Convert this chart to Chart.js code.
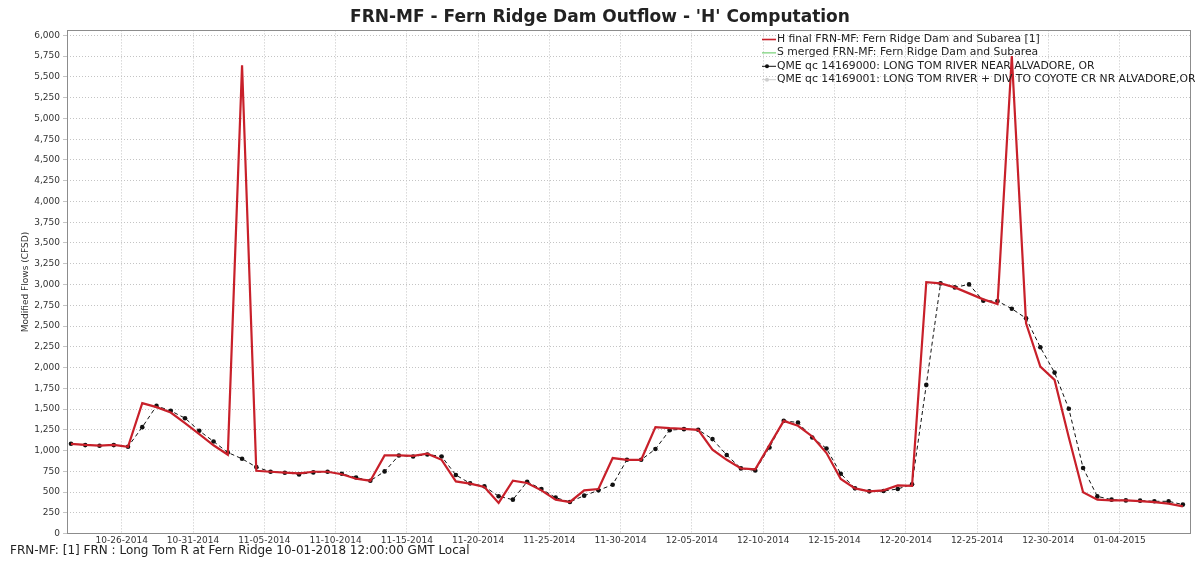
<!DOCTYPE html>
<html>
<head>
<meta charset="utf-8">
<script src="https://cdn.jsdelivr.net/npm/chart.js@4/dist/chart.umd.min.js"></script>
<style>
  html, body { margin: 0; padding: 0; background: #fff; }
</style>
</head>
<body>
<canvas id="flowChart" width="1195" height="563"></canvas>
<script>
// daily values, first point = 10-22-2014, last = 01-08-2015
var hFinal = [1080, 1068, 1060, 1068, 1045, 1571, 1523, 1458, 1330, 1198,
              1064, 950, 5640, 757, 745, 735, 725, 745, 745, 715,
              660, 637, 941, 941, 937, 963, 889, 629, 601, 561,
              369, 637, 609, 521, 409, 381, 521, 537, 910, 889,
              889, 1282, 1270, 1262, 1250, 1010, 889, 785, 773, 1066,
              1358, 1298, 1170, 970, 657, 545, 509, 521, 580, 575,
              3029, 3013, 2965, 2893, 2821, 2764, 5750, 2533, 2011, 1851,
              1158, 497, 409, 400, 400, 390, 380, 360, 328];

var qme14169000 = [1082, 1066, 1058, 1066, 1046, 1282, 1538, 1478, 1390, 1238,
                   1110, 977, 901, 801, 745, 733, 713, 737, 745, 720,
                   675, 637, 749, 941, 929, 953, 929, 705, 605, 569,
                   449, 409, 625, 537, 433, 381, 457, 521, 589, 889,
                   889, 1018, 1246, 1258, 1250, 1138, 946, 785, 761, 1037,
                   1358, 1338, 1158, 1025, 721, 545, 509, 513, 537, 595,
                   1791, 3013, 2965, 3001, 2804, 2800, 2708, 2593, 2244, 1939,
                   1503, 790, 448, 409, 400, 397, 389, 389, 349];

// tick dates (day number counted from 10-22-2014)
var tickDays = [4, 9, 14, 19, 24, 29, 34, 39, 44, 49, 54, 59, 64, 69, 74];
var tickLabels = ['10-26-2014', '10-31-2014', '11-05-2014', '11-10-2014', '11-15-2014',
                  '11-20-2014', '11-25-2014', '11-30-2014', '12-05-2014', '12-10-2014',
                  '12-15-2014', '12-20-2014', '12-25-2014', '12-30-2014', '01-04-2015'];

var seriesNames = ['H final FRN-MF: Fern Ridge Dam and Subarea [1]',
                   'S merged FRN-MF: Fern Ridge Dam and Subarea',
                   'QME qc 14169000: LONG TOM RIVER NEAR ALVADORE, OR',
                   'QME qc 14169001: LONG TOM RIVER + DIV TO COYOTE CR NR ALVADORE,OR'];

var TICK_SHIFT = -0.44;   // values are logged late morning, ticks sit at midnight
var FLOW_STEP = 250;
var FLOW_TOP = 6000;

function toPoints(arr) {
    return arr.map(function (v, i) { return { x: i, y: v }; });
}

// plot frame
var framePlugin = {
    id: 'frame',
    afterDatasetsDraw: function (chart) {
        var a = chart.chartArea, c = chart.ctx;
        c.save();
        c.strokeStyle = '#8c8c8c';
        c.lineWidth = 1;
        c.strokeRect(Math.round(a.left) + 0.5, Math.round(a.top) + 0.5,
                     Math.round(a.right - a.left), Math.round(a.bottom - a.top));
        c.restore();
    }
};

// legend sits inside the plot, top right
var insideLegend = {
    id: 'insideLegend',
    afterDraw: function (chart) {
        var c = chart.ctx;
        c.save();
        c.font = '10.8px "DejaVu Sans"';
        c.textBaseline = 'middle';
        chart.data.datasets.forEach(function (ds, i) {
            var y = 39 + i * 13.4;
            c.strokeStyle = ds.borderColor;
            c.lineWidth = ds.borderWidth > 1.5 ? 1.6 : 1;
            c.setLineDash([]);
            c.beginPath();
            c.moveTo(762, y + 0.5);
            c.lineTo(776, y + 0.5);
            c.stroke();
            if (ds.legendDot) {
                c.fillStyle = ds.borderColor;
                c.beginPath();
                c.arc(767, y + 0.5, 2, 0, Math.PI * 2);
                c.fill();
            }
            c.fillStyle = '#222';
            c.fillText(ds.label, 777, y);
        });
        c.restore();
    }
};

var ctx = document.getElementById('flowChart').getContext('2d');
new Chart(ctx, {
    type: 'line',
    data: {
        datasets: [
            {
                label: seriesNames[0],
                data: toPoints(hFinal),
                borderColor: '#c8202a',
                borderWidth: 2.2,
                pointRadius: 0,
                tension: 0
            },
            {
                label: seriesNames[1],
                data: [],
                borderColor: '#5ac85a',
                borderWidth: 1,
                pointRadius: 0
            },
            {
                label: seriesNames[2],
                data: toPoints(qme14169000),
                borderColor: '#111111',
                borderWidth: 1,
                borderDash: [4, 3],
                pointRadius: 2.3,
                pointBorderWidth: 0,
                pointBackgroundColor: '#111111',
                legendDot: true
            },
            {
                label: seriesNames[3],
                data: [],
                borderColor: '#cfcfcf',
                borderWidth: 1,
                pointRadius: 0,
                legendDot: true
            }
        ]
    },
    options: {
        responsive: false,
        animation: false,
        events: [],
        layout: { padding: { left: 10, right: 5, top: 0, bottom: 0 } },
        plugins: {
            legend: { display: false },
            tooltip: { enabled: false },
            title: {
                display: true,
                text: "FRN-MF - Fern Ridge Dam Outflow - 'H' Computation",
                color: '#222',
                font: { family: 'DejaVu Sans', size: 17, weight: 'bold' },
                padding: { top: 7, bottom: 3 }
            },
            subtitle: {
                display: true,
                position: 'bottom',
                align: 'start',
                text: 'FRN-MF: [1] FRN : Long Tom R at Fern Ridge 10-01-2018 12:00:00 GMT Local',
                color: '#222',
                font: { family: 'DejaVu Sans', size: 12 },
                padding: { top: 0, bottom: 5 }
            }
        },
        scales: {
            x: {
                type: 'linear',
                min: -0.28,
                max: 78.5,
                afterBuildTicks: function (axis) {
                    axis.ticks = tickDays.map(function (d) { return { value: d + TICK_SHIFT }; });
                },
                afterFit: function (axis) { axis.height = 10; },
                ticks: {
                    autoSkip: false,
                    maxRotation: 0,
                    padding: 2,
                    color: '#333',
                    font: { family: 'DejaVu Sans', size: 9 },
                    callback: function (v, i) { return tickLabels[i]; }
                },
                grid: { color: '#c4c4c4', drawTicks: false },
                border: { display: false, dash: [1, 2] }
            },
            y: {
                min: 0,
                max: 6060,
                afterBuildTicks: function (axis) {
                    var t = [];
                    for (var v = 0; v <= FLOW_TOP; v += FLOW_STEP) t.push({ value: v });
                    axis.ticks = t;
                },
                afterFit: function (axis) { axis.width = 57; },
                ticks: {
                    autoSkip: false,
                    padding: 3,
                    color: '#333',
                    font: { family: 'DejaVu Sans', size: 9 },
                    callback: function (v) { return v.toLocaleString('en-US'); }
                },
                grid: { color: '#c4c4c4', tickLength: 4 },
                border: { display: false, dash: [1, 2] },
                title: {
                    display: true,
                    text: 'Modified Flows (CFSD)',
                    color: '#333',
                    font: { family: 'DejaVu Sans', size: 9 },
                    padding: { top: 10, bottom: 0 }
                }
            }
        }
    },
    plugins: [framePlugin, insideLegend]
});
</script>
</body>
</html>
